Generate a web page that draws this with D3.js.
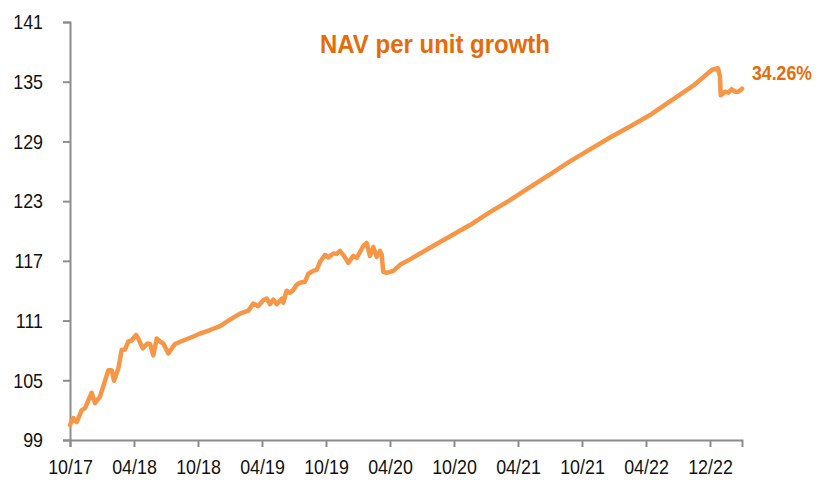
<!DOCTYPE html>
<html><head><meta charset="utf-8">
<script src="https://cdn.jsdelivr.net/npm/d3@7"></script>
<style>
html,body{margin:0;padding:0;background:#fff;}
svg text{font-family:"Liberation Sans Narrow","Arial Narrow","Liberation Sans",sans-serif;}
</style></head>
<body><svg id="c" width="817" height="482"></svg>
<script>
// months elapsed since Oct 2017
const months = [0,0.31,0.63,1.1,1.41,2.03,2.34,2.81,3.59,3.91,4.13,4.53,4.85,5.16,5.47,5.78,6.19,6.4,6.82,7.25,7.5,7.81,8.13,8.44,8.75,9.22,9.84,10.62,11.56,12.19,13.12,14.06,15.0,15.94,16.72,17.18,17.65,18.12,18.44,18.75,19.06,19.38,19.85,20.0,20.31,20.62,20.93,21.25,21.56,22.03,22.34,22.81,23.13,23.44,23.91,24.22,24.69,25.0,25.31,25.62,26.09,26.56,26.88,27.19,27.5,27.81,28.12,28.43,28.75,29.06,29.22,29.37,29.69,30.31,30.94,31.87,34.69,37.5,39.37,41.25,43.12,45.0,46.87,48.75,50.62,52.5,54.37,55.94,57.19,58.43,59.53,60.19,60.75,60.94,61.0,61.41,61.72,62.03,62.34,62.65,63.0];
const navValues = [100.5,101.2,100.8,102.0,102.2,103.75,102.7,103.35,106.0,106.0,104.96,106.2,108.05,108.1,108.9,109.0,109.55,109.2,108.2,108.7,108.65,107.5,109.2,108.9,108.7,107.7,108.65,109.0,109.4,109.7,110.05,110.45,111.1,111.7,112.0,112.7,112.45,113.05,113.2,112.65,113.1,112.65,113.2,112.8,114.0,113.8,114.07,114.6,114.8,114.9,115.7,116.0,116.1,116.9,117.6,117.35,117.75,117.7,118.0,117.6,116.8,117.5,117.3,117.9,118.5,118.8,117.5,118.4,117.4,118.0,117.6,115.9,115.8,116.0,116.6,117.15,118.9,120.6,121.9,123.1,124.4,125.7,127.0,128.2,129.4,130.5,131.65,132.8,133.7,134.6,135.6,136.2,136.35,135.5,133.65,134.0,133.9,134.25,134.0,134.0,134.3];
const xTickPos = [0,6,12,18,24,30,36,42,48,54,60];
const xTickLabels = ["10/17","04/18","10/18","04/19","10/19","04/20","10/20","04/21","10/21","04/22","12/22"];
const yTicks = [99,105,111,117,123,129,135,141];
const chartTitle = "NAV per unit growth";
const endLabel = "34.26%";

const svg = d3.select("#c");
const x = d3.scaleLinear().domain([0,63]).range([70,742]);
const y = d3.scaleLinear().domain([99,141]).range([440,22]);
const axisColor = "#8c8c8c";
const narrow = 0.85;
function condense(sel){
  sel.each(function(){
    const w = this.getComputedTextLength();
    d3.select(this).attr("textLength", w*narrow).attr("lengthAdjust","spacingAndGlyphs");
  });
}

// y axis
const ya = svg.append("g").attr("transform","translate(70,0)")
  .call(d3.axisLeft(y).tickValues(yTicks).tickSize(7).tickPadding(20).tickFormat(d3.format("d")));
ya.select(".domain").attr("stroke",axisColor).attr("stroke-width",2);
ya.selectAll(".tick line").attr("stroke",axisColor).attr("stroke-width",2);
ya.selectAll(".tick text").attr("font-size",21).attr("fill","#111").call(condense);

// x axis
const xa = svg.append("g").attr("transform","translate(0,440)")
  .call(d3.axisBottom(x).tickValues(xTickPos).tickSize(7).tickPadding(12)
    .tickFormat((d,i)=>xTickLabels[i]));
xa.select(".domain").attr("stroke",axisColor).attr("stroke-width",2);
xa.selectAll(".tick line").attr("stroke",axisColor).attr("stroke-width",2);
xa.selectAll(".tick text").attr("font-size",21).attr("fill","#111").call(condense);

// line
const data = months.map((m,i)=>({m, v:navValues[i]}));
svg.append("path").datum(data)
  .attr("fill","none").attr("stroke","#F79646").attr("stroke-width",4.5)
  .attr("stroke-linejoin","round").attr("stroke-linecap","round")
  .attr("d", d3.line().x(d=>x(d.m)).y(d=>y(d.v)));

// title
svg.append("text").attr("x",435).attr("y",53).attr("text-anchor","middle")
  .attr("font-size",26).attr("font-weight","bold").attr("fill","#E46C0A")
  .attr("textLength",230).attr("lengthAdjust","spacingAndGlyphs").text(chartTitle);

// end label (condensed via transform)
const endT = svg.append("text").attr("x",0).attr("y",0)
  .attr("font-size",21).attr("font-weight","bold").attr("fill","#E46C0A").text(endLabel);
const ew = endT.node().getComputedTextLength();
endT.attr("transform",`translate(752,80) scale(${60/ew},1)`);
</script></body></html>
